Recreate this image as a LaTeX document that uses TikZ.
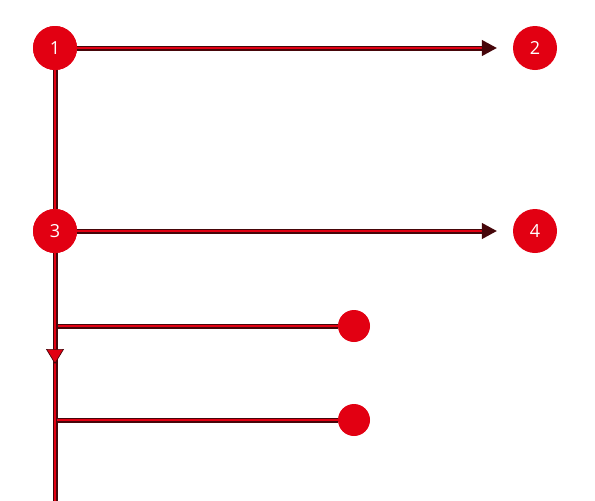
\documentclass[tikz,border=0pt]{standalone}
\usepackage{fontspec}
\setmainfont{Open Sans}
\usetikzlibrary{arrows.meta}
\definecolor{cred}{RGB}{226,0,18}
\definecolor{dred}{RGB}{70,6,10}
\begin{document}
\begin{tikzpicture}[x=1pt,y=-1pt,
  num/.style={circle,fill=cred,minimum size=44pt,inner sep=0pt,text=white,font=\fontsize{18}{18}\selectfont},
  dot/.style={circle,fill=cred,minimum size=32pt,inner sep=0pt},
  conn/.style={draw=dred,line width=1.3pt,double=cred,double distance=2.4pt},
  harrow/.style={conn,-{Triangle[length=15pt,width=16pt,fill=dred]},shorten >=16pt},
  varrow/.style={conn,-{Triangle[length=15pt,width=18pt,fill=cred,line width=0.7pt]}}]
\useasboundingbox (0,0) rectangle (595,501);
\node[num] (n1) at (55,48) {1};
\node[num] (n2) at (535,48) {2};
\node[num] (n3) at (55,231) {3};
\node[num] (n4) at (535,231) {4};
\node[dot] (d1) at (354,326) {};
\node[dot] (d2) at (354,420) {};
\coordinate (b1) at (57,326);
\coordinate (b2) at (57,420);
\coordinate (va) at (55,364);
\coordinate (vend) at (55,503);
\draw[conn] (n1) -- (n3);
\draw[conn] (n3) -- (vend);
\draw[conn] (b1) -- (d1);
\draw[conn] (b2) -- (d2);
\draw[varrow] (n3) -- (va);
\draw[harrow] (n1) -- (n2);
\draw[harrow] (n3) -- (n4);
\node[num] at (n1) {1};
\node[num] at (n3) {3};
\end{tikzpicture}
\end{document}
